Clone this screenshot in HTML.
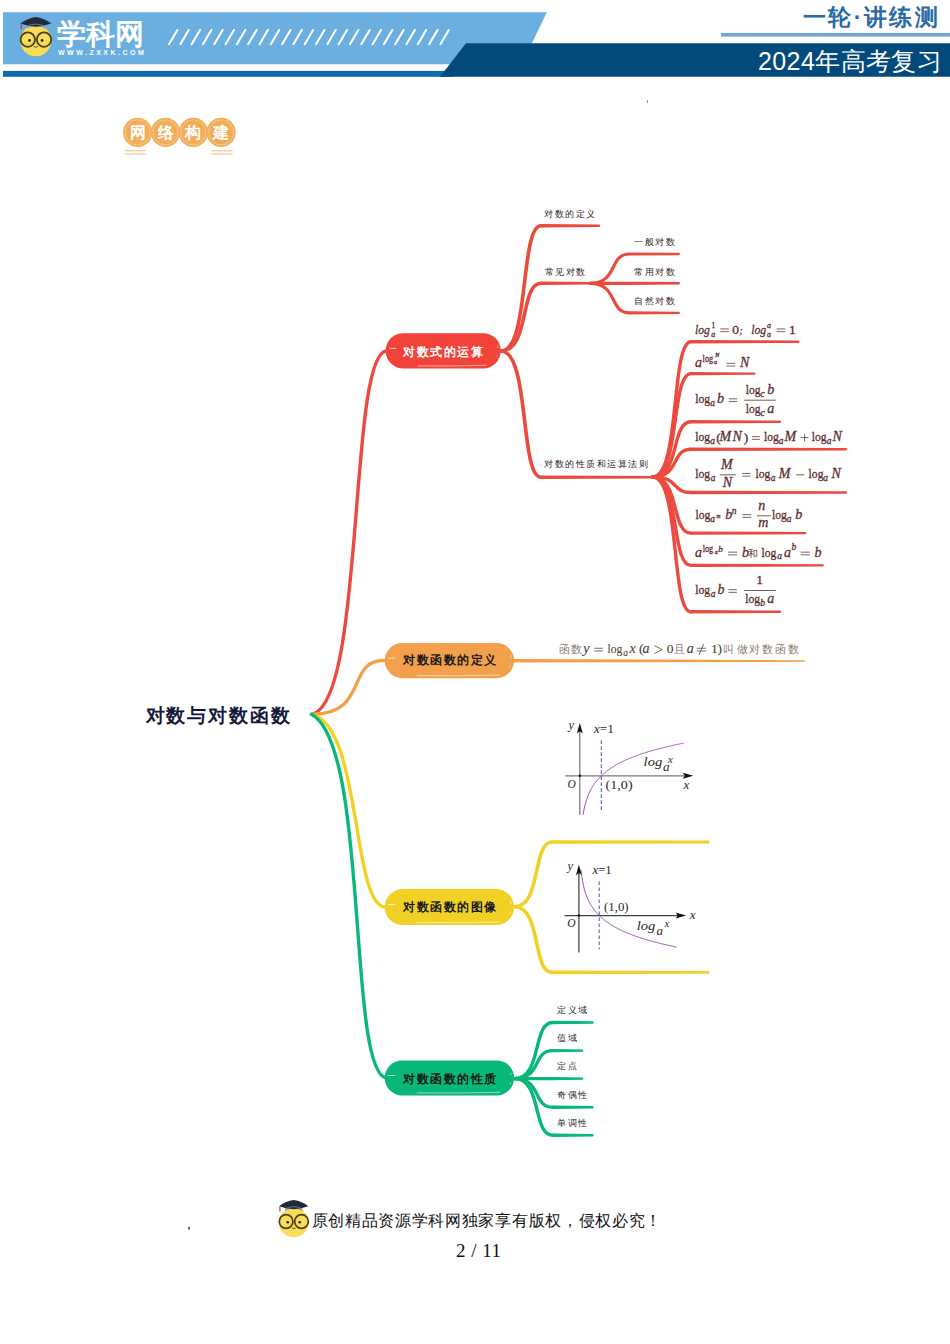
<!DOCTYPE html>
<html><head><meta charset="utf-8">
<style>
html,body{margin:0;padding:0;background:#fff;}
body{width:950px;height:1344px;position:relative;overflow:hidden;font-family:"Liberation Sans",sans-serif;}
.a{position:absolute;white-space:nowrap;line-height:1;}
svg{position:absolute;left:0;top:0;overflow:visible;}
.lbl{position:absolute;white-space:nowrap;line-height:1;font-size:9px;letter-spacing:1.5px;color:#2e1a1a;}
.node{position:absolute;white-space:nowrap;line-height:1;font-size:12px;font-weight:bold;letter-spacing:1.5px;}
.m{position:absolute;white-space:nowrap;line-height:1;font-family:"Liberation Serif",serif;font-size:14px;color:#5a2e2e;}
.m i{font-style:italic;}
.m .sb{font-size:9px;position:relative;top:3px;}
.m .sp{font-size:9px;position:relative;top:-5px;}
.fr{display:inline-block;vertical-align:middle;text-align:center;}
.fr>span{display:block;}
.fr>.num{border-bottom:1px solid #5a2e2e;padding:0 1px 1px;}
.fr>.den{padding-top:1px;}
.gt{position:absolute;white-space:nowrap;line-height:1;font-family:"Liberation Serif",serif;color:#222;}
</style></head><body>

<svg width="950" height="90">
  <polygon points="3,12.3 546.8,12.3 521.8,64.3 3,64.3" fill="#6aafdf"/>
  <rect x="3" y="70.9" width="450" height="5.9" fill="#0f6bb0"/>
  <polygon points="466,43.2 950,43.2 950,76.8 440,76.8" fill="#034a7c"/>
  <rect x="721" y="33" width="229" height="3.6" fill="#6fa8d6"/>
  <g stroke="#fff" stroke-width="2.1" stroke-linecap="round"><path d="M169.00,44.2 L177.40,30"/><path d="M180.31,44.2 L188.71,30"/><path d="M191.62,44.2 L200.02,30"/><path d="M202.93,44.2 L211.33,30"/><path d="M214.24,44.2 L222.64,30"/><path d="M225.55,44.2 L233.95,30"/><path d="M236.86,44.2 L245.26,30"/><path d="M248.17,44.2 L256.57,30"/><path d="M259.48,44.2 L267.88,30"/><path d="M270.79,44.2 L279.19,30"/><path d="M282.10,44.2 L290.50,30"/><path d="M293.41,44.2 L301.81,30"/><path d="M304.72,44.2 L313.12,30"/><path d="M316.03,44.2 L324.43,30"/><path d="M327.34,44.2 L335.74,30"/><path d="M338.65,44.2 L347.05,30"/><path d="M349.96,44.2 L358.36,30"/><path d="M361.27,44.2 L369.67,30"/><path d="M372.58,44.2 L380.98,30"/><path d="M383.89,44.2 L392.29,30"/><path d="M395.20,44.2 L403.60,30"/><path d="M406.51,44.2 L414.91,30"/><path d="M417.82,44.2 L426.22,30"/><path d="M429.13,44.2 L437.53,30"/><path d="M440.44,44.2 L448.84,30"/></g>


  <g>
   <circle cx="35.8" cy="40.6" r="15.6" fill="#fbdc58"/>
   <path d="M26.799999999999997,28.6 Q35.8,23.6 44.8,28.6 L44.8,25.6 L26.799999999999997,25.6 Z" fill="#9aa6b4"/>
   <path d="M20.299999999999997,23.6 Q27.799999999999997,18.1 35.8,17.1 Q43.8,18.1 51.3,23.6 Q43.8,26.1 35.8,26.8 Q27.799999999999997,26.1 20.299999999999997,23.6 Z" fill="#1f2b3b"/>
   <path d="M27.299999999999997,26.1 Q35.8,22.1 44.3,26.1" stroke="#7d8a99" stroke-width="0.8" fill="none"/>
   <path d="M21.299999999999997,24.1 L21.299999999999997,29.1" stroke="#c8404e" stroke-width="1.3"/>
   <circle cx="27.799999999999997" cy="39.6" r="7.2" fill="none" stroke="#4a4218" stroke-width="1.8"/>
   <circle cx="44.0" cy="39.6" r="7.2" fill="none" stroke="#4a4218" stroke-width="1.8"/>
   <circle cx="29.499999999999996" cy="40.4" r="1.4" fill="#2a2410"/>
   <circle cx="42.099999999999994" cy="40.4" r="1.4" fill="#2a2410"/>
   <path d="M33.8,46.4 Q35.8,48.2 37.8,46.4" stroke="#4a4218" stroke-width="0.9" fill="none"/>
  </g>
</svg>
<div class="a" style="left:57px;top:19.5px;font-size:29px;font-weight:bold;color:#fff;letter-spacing:0px;">学科网</div>
<div class="a" style="left:58px;top:48.5px;font-size:7px;font-weight:bold;color:#fff;letter-spacing:2.5px;">WWW.ZXXK.COM</div>
<div class="a" style="left:803px;top:6px;font-size:23px;font-weight:bold;color:#2a6aa6;letter-spacing:2.4px;">一轮·讲练测</div>
<div class="a" style="left:758px;top:49px;font-size:25px;color:#fff;letter-spacing:0.4px;">2024年高考复习</div>
<svg width="950" height="200">
<circle cx="137.6" cy="132.4" r="14.6" fill="#f2ad58"/>
<circle cx="137.6" cy="132.4" r="12.6" fill="none" stroke="#f8d3a0" stroke-width="0.7"/>
<circle cx="165.5" cy="132.4" r="14.6" fill="#f2ad58"/>
<circle cx="165.5" cy="132.4" r="12.6" fill="none" stroke="#f8d3a0" stroke-width="0.7"/>
<circle cx="193.3" cy="132.4" r="14.6" fill="#f2ad58"/>
<circle cx="193.3" cy="132.4" r="12.6" fill="none" stroke="#f8d3a0" stroke-width="0.7"/>
<circle cx="221.1" cy="132.4" r="14.6" fill="#f2ad58"/>
<circle cx="221.1" cy="132.4" r="12.6" fill="none" stroke="#f8d3a0" stroke-width="0.7"/>
<rect x="124.6" y="150.2" width="21.2" height="1.1" fill="#f2c38a"/>
<rect x="124.6" y="153.4" width="21.2" height="1.1" fill="#f2c38a"/>
<rect x="211.5" y="150.2" width="21.2" height="1.1" fill="#f2c38a"/>
<rect x="211.5" y="153.4" width="21.2" height="1.1" fill="#f2c38a"/>
</svg>
<div class="a" style="left:129.6px;top:124.5px;font-size:16px;font-weight:bold;color:#fff;">网</div>
<div class="a" style="left:157.5px;top:124.5px;font-size:16px;font-weight:bold;color:#fff;">络</div>
<div class="a" style="left:185.3px;top:124.5px;font-size:16px;font-weight:bold;color:#fff;">构</div>
<div class="a" style="left:213.1px;top:124.5px;font-size:16px;font-weight:bold;color:#fff;">建</div>
<svg width="950" height="1344">
<path d="M311.5,714.3 C365.3,704 348.1,357 386,351" fill="none" stroke="#ec4a3e" stroke-width="3.4" stroke-linecap="round"/>
<path d="M311.5,714.3 C369.9,715 344.9,658.3 386,660.6" fill="none" stroke="#f3a04d" stroke-width="3.4" stroke-linecap="round"/>
<path d="M311.5,714.3 C362,724.3 351.3,907.9 386,907" fill="none" stroke="#f1d126" stroke-width="3.4" stroke-linecap="round"/>
<path d="M311.5,714.3 C369.3,745.1 347.1,1069.1 386,1078" fill="none" stroke="#08b878" stroke-width="3.4" stroke-linecap="round"/>
<rect x="385.6" y="333.2" width="115.19999999999999" height="35.30000000000001" rx="17.650000000000006" fill="#f2433a"/>
<path d="M389.1,348.379 L396.1,348.379" stroke="#fff" stroke-opacity="0.75" stroke-width="0.9"/>
<path d="M417.6,365.9 Q453.20000000000005,366.3 486.8,365.3" stroke="#fff" stroke-opacity="0.6" stroke-width="0.9" fill="none"/>
<path d="M497.8,345.555 L497.5,348.026 M497.2,355.086 L496.8,357.204" stroke="#fff" stroke-opacity="0.6" stroke-width="0.8" fill="none"/>
<rect x="384.7" y="643" width="129.40000000000003" height="35.200000000000045" rx="17.600000000000023" fill="#f3a04d"/>
<path d="M388.2,658.136 L395.2,658.136" stroke="#fff" stroke-opacity="0.75" stroke-width="0.9"/>
<path d="M416.7,675.6 Q459.4,676.0 500.1,675.0" stroke="#fff" stroke-opacity="0.6" stroke-width="0.9" fill="none"/>
<path d="M511.1,655.32 L510.8,657.784 M510.5,664.8240000000001 L510.1,666.936" stroke="#fff" stroke-opacity="0.6" stroke-width="0.8" fill="none"/>
<rect x="384.7" y="889.1" width="129.40000000000003" height="36.0" rx="18.0" fill="#f1d126"/>
<path d="M388.2,904.58 L395.2,904.58" stroke="#fff" stroke-opacity="0.75" stroke-width="0.9"/>
<path d="M416.7,922.5 Q459.4,922.9 500.1,921.9" stroke="#fff" stroke-opacity="0.6" stroke-width="0.9" fill="none"/>
<path d="M511.1,901.7 L510.8,904.22 M510.5,911.4200000000001 L510.1,913.58" stroke="#fff" stroke-opacity="0.6" stroke-width="0.8" fill="none"/>
<rect x="384.7" y="1060.4" width="129.40000000000003" height="35.09999999999991" rx="17.549999999999955" fill="#08b878"/>
<path d="M388.2,1075.493 L395.2,1075.493" stroke="#fff" stroke-opacity="0.75" stroke-width="0.9"/>
<path d="M416.7,1092.9 Q459.4,1093.3 500.1,1092.3" stroke="#fff" stroke-opacity="0.6" stroke-width="0.9" fill="none"/>
<path d="M511.1,1072.685 L510.8,1075.142 M510.5,1082.162 L510.1,1084.268" stroke="#fff" stroke-opacity="0.6" stroke-width="0.8" fill="none"/>
<path d="M501,351 C529.80,351 519.80,225.8 541,225.8" fill="none" stroke="#ec4a3e" stroke-width="3.6" stroke-linecap="round"/>
<path d="M541,224.0 L599.5,224.60000000000002 Q601.0,225.8 599.5,227.0 L541,227.60000000000002 Z" fill="#ec4a3e"/>
<path d="M501,351 C529.80,351 519.80,283.3 541,283.3" fill="none" stroke="#ec4a3e" stroke-width="3.6" stroke-linecap="round"/>
<path d="M541,281.5 L589,282.1 Q590.5,283.3 589,284.5 L541,285.1 Z" fill="#ec4a3e"/>
<path d="M501,351 C529.80,351 519.80,477.2 541,477.2" fill="none" stroke="#ec4a3e" stroke-width="3.6" stroke-linecap="round"/>
<path d="M541,475.4 L652,476.0 Q653.5,477.2 652,478.4 L541,479.0 Z" fill="#ec4a3e"/>
<path d="M590,283.3 C618.44,283.3 608.57,254 629.5,254" fill="none" stroke="#ec4a3e" stroke-width="3.2" stroke-linecap="round"/>
<path d="M629.5,252.4 L679.3,252.8 Q680.8,254 679.3,255.2 L629.5,255.6 Z" fill="#ec4a3e"/>
<path d="M590,283.3 C618.44,283.3 608.57,283.3 629.5,283.3" fill="none" stroke="#ec4a3e" stroke-width="3.2" stroke-linecap="round"/>
<path d="M629.5,281.7 L679.3,282.1 Q680.8,283.3 679.3,284.5 L629.5,284.90000000000003 Z" fill="#ec4a3e"/>
<path d="M590,283.3 C618.44,283.3 608.57,312.9 629.5,312.9" fill="none" stroke="#ec4a3e" stroke-width="3.2" stroke-linecap="round"/>
<path d="M629.5,311.29999999999995 L679.3,311.7 Q680.8,312.9 679.3,314.09999999999997 L629.5,314.5 Z" fill="#ec4a3e"/>
<path d="M652.6,477 C680.25,477 670.65,341.7 691,341.7" fill="none" stroke="#ec4a3e" stroke-width="3.4" stroke-linecap="round"/>
<path d="M691,340.0 L798.8,340.5 Q800.3,341.7 798.8,342.9 L691,343.4 Z" fill="#ec4a3e"/>
<path d="M652.6,477 C680.25,477 670.65,373.6 691,373.6" fill="none" stroke="#ec4a3e" stroke-width="3.4" stroke-linecap="round"/>
<path d="M691,371.90000000000003 L754.8,372.40000000000003 Q756.3,373.6 754.8,374.8 L691,375.3 Z" fill="#ec4a3e"/>
<path d="M652.6,477 C680.25,477 670.65,421.8 691,421.8" fill="none" stroke="#ec4a3e" stroke-width="3.4" stroke-linecap="round"/>
<path d="M691,420.1 L780.3,420.6 Q781.8,421.8 780.3,423.0 L691,423.5 Z" fill="#ec4a3e"/>
<path d="M652.6,477 C680.25,477 670.65,449.3 691,449.3" fill="none" stroke="#ec4a3e" stroke-width="3.4" stroke-linecap="round"/>
<path d="M691,447.6 L846.3,448.1 Q847.8,449.3 846.3,450.5 L691,451.0 Z" fill="#ec4a3e"/>
<path d="M652.6,477 C680.25,477 670.65,492.5 691,492.5" fill="none" stroke="#ec4a3e" stroke-width="3.4" stroke-linecap="round"/>
<path d="M691,490.8 L846.3,491.3 Q847.8,492.5 846.3,493.7 L691,494.2 Z" fill="#ec4a3e"/>
<path d="M652.6,477 C680.25,477 670.65,533.1 691,533.1" fill="none" stroke="#ec4a3e" stroke-width="3.4" stroke-linecap="round"/>
<path d="M691,531.4 L805.7,531.9 Q807.2,533.1 805.7,534.3000000000001 L691,534.8000000000001 Z" fill="#ec4a3e"/>
<path d="M652.6,477 C680.25,477 670.65,565.4 691,565.4" fill="none" stroke="#ec4a3e" stroke-width="3.4" stroke-linecap="round"/>
<path d="M691,563.6999999999999 L823.1,564.1999999999999 Q824.6,565.4 823.1,566.6 L691,567.1 Z" fill="#ec4a3e"/>
<path d="M652.6,477 C680.25,477 670.65,611.8 691,611.8" fill="none" stroke="#ec4a3e" stroke-width="3.4" stroke-linecap="round"/>
<path d="M691,610.0999999999999 L780.3,610.5999999999999 Q781.8,611.8 780.3,613.0 L691,613.5 Z" fill="#ec4a3e"/>
<path d="M514,659 L804,660.2 Q806,661 804,661.8 L514,662.4 Z" fill="#f3a04d"/>
<path d="M514.6,906.8 C541.53,906.8 532.18,842 552,842" fill="none" stroke="#f1d126" stroke-width="3.6" stroke-linecap="round"/>
<path d="M552,840.2 L709,840.6 Q710.5,842 709,843.4 L552,843.8 Z" fill="#f1d126"/>
<path d="M514.6,906.8 C541.53,906.8 532.18,972.4 552,972.4" fill="none" stroke="#f1d126" stroke-width="3.6" stroke-linecap="round"/>
<path d="M552,970.6 L709,971.0 Q710.5,972.4 709,973.8 L552,974.1999999999999 Z" fill="#f1d126"/>
<path d="M514.7,1078.6 C541.92,1078.6 532.47,1022.5 552.5,1022.5" fill="none" stroke="#08b878" stroke-width="3.4" stroke-linecap="round"/>
<path d="M552.5,1020.8 L593,1021.3 Q594.5,1022.5 593,1023.7 L552.5,1024.2 Z" fill="#08b878"/>
<path d="M514.7,1078.6 C541.92,1078.6 532.47,1050.6 552.5,1050.6" fill="none" stroke="#08b878" stroke-width="3.4" stroke-linecap="round"/>
<path d="M552.5,1048.8999999999999 L582.7,1049.3999999999999 Q584.2,1050.6 582.7,1051.8 L552.5,1052.3 Z" fill="#08b878"/>
<path d="M514.7,1078.6 C541.92,1078.6 532.47,1078.6 552.5,1078.6" fill="none" stroke="#08b878" stroke-width="3.4" stroke-linecap="round"/>
<path d="M552.5,1076.8999999999999 L582.7,1077.3999999999999 Q584.2,1078.6 582.7,1079.8 L552.5,1080.3 Z" fill="#08b878"/>
<path d="M514.7,1078.6 C541.92,1078.6 532.47,1107.2 552.5,1107.2" fill="none" stroke="#08b878" stroke-width="3.4" stroke-linecap="round"/>
<path d="M552.5,1105.5 L593,1106.0 Q594.5,1107.2 593,1108.4 L552.5,1108.9 Z" fill="#08b878"/>
<path d="M514.7,1078.6 C541.92,1078.6 532.47,1135.2 552.5,1135.2" fill="none" stroke="#08b878" stroke-width="3.4" stroke-linecap="round"/>
<path d="M552.5,1133.5 L593,1134.0 Q594.5,1135.2 593,1136.4 L552.5,1136.9 Z" fill="#08b878"/>
<line x1="579.8" y1="730.0" x2="579.8" y2="815" stroke="#7a7a7a" stroke-width="1.25"/>
<polygon points="579.8,723.0 576.8,733.5 579.8,731.3 582.8,733.5" fill="#111"/>
<line x1="565.3" y1="775.8" x2="686.2" y2="775.8" stroke="#7a7a7a" stroke-width="1.25"/>
<polygon points="693.2,775.8 682.7,772.8 684.9000000000001,775.8 682.7,778.8" fill="#111"/>
<circle cx="579.8" cy="775.8" r="1.3" fill="#111"/>
<line x1="601.3" y1="740.3" x2="601.3" y2="811.8" stroke="#4455dd" stroke-width="1.05" stroke-dasharray="3.6,2.4"/>
<line x1="578.9" y1="871.7" x2="578.9" y2="952.6" stroke="#444" stroke-width="1.25"/>
<polygon points="578.9,864.7 575.9,875.2 578.9,873.0 581.9,875.2" fill="#111"/>
<line x1="564.5" y1="915.5" x2="679.1" y2="915.5" stroke="#444" stroke-width="1.25"/>
<polygon points="686.1,915.5 675.6,912.5 677.8000000000001,915.5 675.6,918.5" fill="#111"/>
<circle cx="578.9" cy="915.5" r="1.3" fill="#111"/>
<line x1="599.2" y1="881.5" x2="599.2" y2="949.5" stroke="#4455dd" stroke-width="1.05" stroke-dasharray="3.6,2.4"/>
<polyline points="583.10,814.69 583.60,811.76 584.10,809.20 584.60,806.91 585.10,804.86 585.60,802.99 586.10,801.27 586.60,799.69 587.10,798.21 587.60,796.84 588.10,795.55 588.60,794.34 589.10,793.19 589.60,792.10 590.10,791.07 590.60,790.09 591.10,789.15 591.60,788.25 592.10,787.39 592.60,786.56 593.10,785.77 593.60,785.00 594.10,784.26 594.60,783.55 595.10,782.86 595.60,782.19 596.10,781.55 596.60,780.92 597.10,780.31 597.60,779.72 598.10,779.14 598.60,778.58 599.10,778.04 599.60,777.51 600.10,776.99 600.60,776.49 601.10,775.99 601.60,775.51 602.10,775.04 602.60,774.58 603.10,774.13 603.60,773.69 604.10,773.26 604.60,772.84 605.10,772.42 605.60,772.02 606.10,771.62 606.60,771.23 607.10,770.84 607.60,770.47 608.10,770.10 608.60,769.73 609.10,769.38 609.60,769.03 610.10,768.68 610.60,768.34 611.10,768.01 611.60,767.68 612.10,767.35 612.60,767.04 613.10,766.72 613.60,766.41 614.10,766.11 614.60,765.81 615.10,765.51 615.60,765.22 616.10,764.93 616.60,764.65 617.10,764.37 617.60,764.09 618.10,763.82 618.60,763.55 619.10,763.28 619.60,763.02 620.10,762.76 620.60,762.51 621.10,762.25 621.60,762.00 622.10,761.76 622.60,761.51 623.10,761.27 623.60,761.03 624.10,760.80 624.60,760.57 625.10,760.34 625.60,760.11 626.10,759.88 626.60,759.66 627.10,759.44 627.60,759.22 628.10,759.01 628.60,758.79 629.10,758.58 629.60,758.37 630.10,758.16 630.60,757.96 631.10,757.76 631.60,757.55 632.10,757.35 632.60,757.16 633.10,756.96 633.60,756.77 634.10,756.58 634.60,756.39 635.10,756.20 635.60,756.01 636.10,755.83 636.60,755.64 637.10,755.46 637.60,755.28 638.10,755.10 638.60,754.92 639.10,754.75 639.60,754.57 640.10,754.40 640.60,754.23 641.10,754.06 641.60,753.89 642.10,753.72 642.60,753.56 643.10,753.39 643.60,753.23 644.10,753.07 644.60,752.91 645.10,752.75 645.60,752.59 646.10,752.43 646.60,752.28 647.10,752.12 647.60,751.97 648.10,751.82 648.60,751.66 649.10,751.51 649.60,751.37 650.10,751.22 650.60,751.07 651.10,750.92 651.60,750.78 652.10,750.63 652.60,750.49 653.10,750.35 653.60,750.21 654.10,750.07 654.60,749.93 655.10,749.79 655.60,749.65 656.10,749.52 656.60,749.38 657.10,749.25 657.60,749.11 658.10,748.98 658.60,748.85 659.10,748.72 659.60,748.59 660.10,748.46 660.60,748.33 661.10,748.20 661.60,748.07 662.10,747.95 662.60,747.82 663.10,747.70 663.60,747.57 664.10,747.45 664.60,747.33 665.10,747.20 665.60,747.08 666.10,746.96 666.60,746.84 667.10,746.72 667.60,746.60 668.10,746.49 668.60,746.37 669.10,746.25 669.60,746.14 670.10,746.02 670.60,745.91 671.10,745.79 671.60,745.68 672.10,745.57 672.60,745.46 673.10,745.34 673.60,745.23 674.10,745.12 674.60,745.01 675.10,744.90 675.60,744.80 676.10,744.69 676.60,744.58 677.10,744.47 677.60,744.37 678.10,744.26 678.60,744.16 679.10,744.05 679.60,743.95 680.10,743.84 680.60,743.74 681.10,743.64 681.60,743.53 682.10,743.43 682.60,743.33 683.10,743.23 683.60,743.13" fill="none" stroke="#a04aa6" stroke-width="1"/>
<polyline points="581.00,869.90 581.50,874.19 582.00,877.73 582.50,880.73 583.00,883.35 583.50,885.66 584.00,887.73 584.50,889.61 585.00,891.33 585.50,892.92 586.00,894.38 586.50,895.75 587.00,897.03 587.50,898.24 588.00,899.37 588.50,900.45 589.00,901.47 589.50,902.44 590.00,903.37 590.50,904.25 591.00,905.10 591.50,905.91 592.00,906.70 592.50,907.45 593.00,908.17 593.50,908.88 594.00,909.55 594.50,910.21 595.00,910.84 595.50,911.46 596.00,912.05 596.50,912.63 597.00,913.19 597.50,913.74 598.00,914.28 598.50,914.79 599.00,915.30 599.50,915.79 600.00,916.28 600.50,916.75 601.00,917.21 601.50,917.66 602.00,918.10 602.50,918.53 603.00,918.95 603.50,919.36 604.00,919.77 604.50,920.16 605.00,920.55 605.50,920.93 606.00,921.31 606.50,921.67 607.00,922.04 607.50,922.39 608.00,922.74 608.50,923.08 609.00,923.42 609.50,923.75 610.00,924.07 610.50,924.39 611.00,924.71 611.50,925.02 612.00,925.33 612.50,925.63 613.00,925.93 613.50,926.22 614.00,926.51 614.50,926.79 615.00,927.07 615.50,927.35 616.00,927.62 616.50,927.89 617.00,928.15 617.50,928.42 618.00,928.68 618.50,928.93 619.00,929.18 619.50,929.43 620.00,929.68 620.50,929.92 621.00,930.16 621.50,930.40 622.00,930.63 622.50,930.87 623.00,931.09 623.50,931.32 624.00,931.55 624.50,931.77 625.00,931.99 625.50,932.20 626.00,932.42 626.50,932.63 627.00,932.84 627.50,933.05 628.00,933.25 628.50,933.46 629.00,933.66 629.50,933.86 630.00,934.06 630.50,934.25 631.00,934.45 631.50,934.64 632.00,934.83 632.50,935.02 633.00,935.20 633.50,935.39 634.00,935.57 634.50,935.75 635.00,935.93 635.50,936.11 636.00,936.29 636.50,936.46 637.00,936.64 637.50,936.81 638.00,936.98 638.50,937.15 639.00,937.32 639.50,937.48 640.00,937.65 640.50,937.81 641.00,937.97 641.50,938.14 642.00,938.30 642.50,938.45 643.00,938.61 643.50,938.77 644.00,938.92 644.50,939.08 645.00,939.23 645.50,939.38 646.00,939.53 646.50,939.68 647.00,939.83 647.50,939.98 648.00,940.12 648.50,940.27 649.00,940.41 649.50,940.55 650.00,940.69 650.50,940.84 651.00,940.98 651.50,941.11 652.00,941.25 652.50,941.39 653.00,941.53 653.50,941.66 654.00,941.79 654.50,941.93 655.00,942.06 655.50,942.19 656.00,942.32 656.50,942.45 657.00,942.58 657.50,942.71 658.00,942.84 658.50,942.96 659.00,943.09 659.50,943.22 660.00,943.34 660.50,943.46 661.00,943.59 661.50,943.71 662.00,943.83 662.50,943.95 663.00,944.07 663.50,944.19 664.00,944.31 664.50,944.43 665.00,944.54 665.50,944.66 666.00,944.77 666.50,944.89 667.00,945.00 667.50,945.12 668.00,945.23 668.50,945.34 669.00,945.46 669.50,945.57 670.00,945.68 670.50,945.79 671.00,945.90 671.50,946.01 672.00,946.11 672.50,946.22 673.00,946.33 673.50,946.43 674.00,946.54 674.50,946.65 675.00,946.75 675.50,946.86 676.00,946.96 676.50,947.06" fill="none" stroke="#a04aa6" stroke-width="1"/>
</svg>
<div class="a" style="left:145.5px;top:707px;font-size:18.5px;font-weight:bold;letter-spacing:1.85px;color:#14183a;">对数与对数函数</div>
<div class="node" style="left:403px;top:345.5px;color:#fff;">对数式的运算</div>
<div class="node" style="left:403px;top:654px;color:#1a1a1a;">对数函数的定义</div>
<div class="node" style="left:403px;top:901px;color:#1a1a1a;">对数函数的图像</div>
<div class="node" style="left:403px;top:1073px;color:#1a1a1a;">对数函数的性质</div>
<div class="lbl" style="left:544px;top:210.0px;color:#2e1a1a;">对数的定义</div>
<div class="lbl" style="left:544.5px;top:267.5px;color:#2e1a1a;">常见对数</div>
<div class="lbl" style="left:634.3px;top:238.0px;color:#2e1a1a;">一般对数</div>
<div class="lbl" style="left:634.3px;top:267.5px;color:#2e1a1a;">常用对数</div>
<div class="lbl" style="left:634.3px;top:297.0px;color:#2e1a1a;">自然对数</div>
<div class="lbl" style="left:544px;top:459.7px;color:#2e1a1a;">对数的性质和运算法则</div>
<div class="lbl" style="left:557.4px;top:1006.3px;color:#2a2a2a;">定义域</div>
<div class="lbl" style="left:557.4px;top:1034.4px;color:#2a2a2a;">值域</div>
<div class="lbl" style="left:557.4px;top:1062.4px;color:#2a2a2a;">定点</div>
<div class="lbl" style="left:557.4px;top:1091.0px;color:#2a2a2a;">奇偶性</div>
<div class="lbl" style="left:557.4px;top:1119.0px;color:#2a2a2a;">单调性</div>
<svg width="950" height="1344" font-family="Liberation Serif" fill="#5b2f2f" stroke="#5b2f2f" stroke-width="0.3"><text x="695.0" y="333.5" font-size="13.5" font-style="italic" textLength="14.9" lengthAdjust="spacingAndGlyphs">log</text><text x="711.6" y="328.4" font-size="7.5">1</text><text x="711.2" y="336.5" font-size="8" font-style="italic">a</text><path d="M720.3,328.95 H728.8 M720.3,331.65000000000003 H728.8" stroke="#5b2f2f" stroke-width="0.75" fill="none"/><text x="732.2" y="333.8" font-size="13.5">0</text><text x="739.3" y="333.6" font-size="10" font-style="italic">;</text><text x="751.2" y="333.5" font-size="13.5" font-style="italic" textLength="14.9" lengthAdjust="spacingAndGlyphs">log</text><text x="767.0" y="328.2" font-size="8" font-style="italic">a</text><text x="767.0" y="336.5" font-size="8" font-style="italic">a</text><path d="M776.6,328.95 H785.4 M776.6,331.65000000000003 H785.4" stroke="#5b2f2f" stroke-width="0.75" fill="none"/><text x="789.0" y="333.8" font-size="13.5">1</text><text x="695.0" y="367.3" font-size="14" font-style="italic">a</text><text x="702.6" y="361.8" font-size="9.5" textLength="10.49" lengthAdjust="spacingAndGlyphs">log</text><text x="714.0" y="364.2" font-size="6" font-style="italic">a</text><text x="715.2" y="357.4" font-size="6" font-style="italic">N</text><path d="M726.5,363.34999999999997 H735.3 M726.5,366.05 H735.3" stroke="#5b2f2f" stroke-width="0.75" fill="none"/><text x="740.0" y="367.3" font-size="14" font-style="italic">N</text><text x="695.3" y="403.2" font-size="13.5" textLength="14.9" lengthAdjust="spacingAndGlyphs">log</text><text x="710.2" y="406.2" font-size="9.5" font-style="italic">a</text><text x="717.0" y="403.2" font-size="14" font-style="italic">b</text><path d="M728.8,398.84999999999997 H737.3 M728.8,401.55 H737.3" stroke="#5b2f2f" stroke-width="0.75" fill="none"/><path d="M744,400.2 H775.7" stroke="#5b2f2f" stroke-width="0.8" fill="none"/><text x="745.7" y="394.2" font-size="13.5" textLength="14.9" lengthAdjust="spacingAndGlyphs">log</text><text x="760.6" y="397.2" font-size="9.5" font-style="italic">c</text><text x="767.2" y="394.2" font-size="14" font-style="italic">b</text><text x="745.7" y="412.7" font-size="13.5" textLength="14.9" lengthAdjust="spacingAndGlyphs">log</text><text x="760.6" y="415.5" font-size="9.5" font-style="italic">c</text><text x="767.2" y="412.7" font-size="14" font-style="italic">a</text><text x="695.3" y="441.2" font-size="13.5" textLength="14.9" lengthAdjust="spacingAndGlyphs">log</text><text x="710.2" y="443.7" font-size="9.5" font-style="italic">a</text><text x="716.3" y="441.5" font-size="13.5">(</text><text x="719.4" y="441.2" font-size="14" font-style="italic">M</text><text x="732.6" y="441.2" font-size="14" font-style="italic">N</text><text x="743.7" y="441.5" font-size="13.5">)</text><path d="M751.9,436.65 H759.9 M751.9,439.35 H759.9" stroke="#5b2f2f" stroke-width="0.75" fill="none"/><text x="763.9" y="441.2" font-size="13.5" textLength="14.9" lengthAdjust="spacingAndGlyphs">log</text><text x="778.8" y="443.7" font-size="9.5" font-style="italic">a</text><text x="784.6" y="441.2" font-size="14" font-style="italic">M</text><path d="M800.8,437.6 H808.4 M804.5999999999999,433.8 V441.40000000000003" stroke="#5b2f2f" stroke-width="0.75" fill="none"/><text x="811.8" y="441.2" font-size="13.5" textLength="14.9" lengthAdjust="spacingAndGlyphs">log</text><text x="826.7" y="443.7" font-size="9.5" font-style="italic">a</text><text x="832.5" y="441.2" font-size="14" font-style="italic">N</text><text x="695.3" y="478.2" font-size="13.5" textLength="14.9" lengthAdjust="spacingAndGlyphs">log</text><text x="710.8" y="480.9" font-size="9.5" font-style="italic">a</text><path d="M719.9,474.8 H735.9" stroke="#5b2f2f" stroke-width="0.8" fill="none"/><text x="721.0" y="469.4" font-size="14" font-style="italic">M</text><text x="722.8" y="487" font-size="14" font-style="italic">N</text><path d="M742.2,473.45 H750.6 M742.2,476.15000000000003 H750.6" stroke="#5b2f2f" stroke-width="0.75" fill="none"/><text x="755.5" y="478.2" font-size="13.5" textLength="14.9" lengthAdjust="spacingAndGlyphs">log</text><text x="770.8" y="480.9" font-size="9.5" font-style="italic">a</text><text x="778.8" y="478.2" font-size="14" font-style="italic">M</text><path d="M796.3,474.8 H804.4" stroke="#5b2f2f" stroke-width="0.8" fill="none"/><text x="808.6" y="478.2" font-size="13.5" textLength="14.9" lengthAdjust="spacingAndGlyphs">log</text><text x="823.3" y="480.9" font-size="9.5" font-style="italic">a</text><text x="831.6" y="478.2" font-size="14" font-style="italic">N</text><text x="695.5" y="518.9" font-size="13.5" textLength="14.9" lengthAdjust="spacingAndGlyphs">log</text><text x="710.3" y="522.0" font-size="9.5" font-style="italic">a</text><text x="716.5" y="518.2" font-size="5.5" font-style="italic">m</text><text x="725.2" y="518.9" font-size="14" font-style="italic">b</text><text x="731.8" y="513.9" font-size="9.5" font-style="italic">n</text><path d="M742.4,514.65 H751.3 M742.4,517.35 H751.3" stroke="#5b2f2f" stroke-width="0.75" fill="none"/><path d="M757,515.8 H770.8" stroke="#5b2f2f" stroke-width="0.8" fill="none"/><text x="758.3" y="509.5" font-size="14" font-style="italic">n</text><text x="758.3" y="527.2" font-size="14" font-style="italic">m</text><text x="771.9" y="518.9" font-size="13.5" textLength="14.9" lengthAdjust="spacingAndGlyphs">log</text><text x="786.8" y="522.0" font-size="9.5" font-style="italic">a</text><text x="795.3" y="518.9" font-size="14" font-style="italic">b</text><text x="695.0" y="556.6" font-size="14" font-style="italic">a</text><text x="702.7" y="552.2" font-size="9.5" textLength="10.49" lengthAdjust="spacingAndGlyphs">log</text><text x="714.8" y="554.2" font-size="6" font-style="italic">a</text><text x="718.2" y="552.0" font-size="9" font-style="italic">b</text><path d="M728.0,552.15 H737.2 M728.0,554.85 H737.2" stroke="#5b2f2f" stroke-width="0.75" fill="none"/><text x="742.0" y="556.6" font-size="14" font-style="italic">b</text><text x="747.8" y="556.6" font-size="10" stroke="none">和</text><text x="761.4" y="556.6" font-size="13.5" textLength="14.9" lengthAdjust="spacingAndGlyphs">log</text><text x="777.3" y="559.3" font-size="9.5" font-style="italic">a</text><text x="784.0" y="556.6" font-size="14" font-style="italic">a</text><text x="791.6" y="550.0" font-size="9.5" font-style="italic">b</text><path d="M800.7,552.15 H809.9 M800.7,554.85 H809.9" stroke="#5b2f2f" stroke-width="0.75" fill="none"/><text x="814.5" y="556.6" font-size="14" font-style="italic">b</text><text x="695.3" y="594.0" font-size="13.5" textLength="14.9" lengthAdjust="spacingAndGlyphs">log</text><text x="710.8" y="597.0" font-size="9.5" font-style="italic">a</text><text x="717.6" y="594.0" font-size="14" font-style="italic">b</text><path d="M728.4,589.65 H736.9 M728.4,592.35 H736.9" stroke="#5b2f2f" stroke-width="0.75" fill="none"/><path d="M744,590.5 H775.7" stroke="#5b2f2f" stroke-width="0.8" fill="none"/><text x="756.2" y="584.3" font-size="13.5">1</text><text x="745.2" y="602.8" font-size="13.5" textLength="14.9" lengthAdjust="spacingAndGlyphs">log</text><text x="760.3" y="605.8" font-size="9.5" font-style="italic">b</text><text x="767.2" y="602.8" font-size="14" font-style="italic">a</text><text x="558.5" y="652.6" font-size="10.5" fill="#8a7b70" stroke="none">函</text><text x="570.8000000000001" y="652.6" font-size="10.5" fill="#8a7b70" stroke="none">数</text><text x="583.2" y="652.7" font-size="14" font-style="italic" fill="#4e3e34" stroke="#4e3e34" stroke-width="0.1">y</text><path d="M594.3,648.25 H602.8 M594.3,650.95 H602.8" stroke="#4e3e34" stroke-width="0.75" fill="none"/><text x="607.4" y="652.7" font-size="13.5" fill="#4e3e34" stroke="#4e3e34" stroke-width="0.1" textLength="14.9" lengthAdjust="spacingAndGlyphs">log</text><text x="623.3" y="655.5" font-size="9.5" font-style="italic" fill="#4e3e34" stroke="#4e3e34" stroke-width="0.1">a</text><text x="629.6" y="652.7" font-size="14" font-style="italic" fill="#4e3e34" stroke="#4e3e34" stroke-width="0.1">x</text><text x="639.0" y="653.0" font-size="13.5" fill="#4e3e34" stroke="#4e3e34" stroke-width="0.1">(</text><text x="642.6" y="652.7" font-size="14" font-style="italic" fill="#4e3e34" stroke="#4e3e34" stroke-width="0.1">a</text><path d="M654.4,645.6 L662.2,649.6 L654.4,653.6" stroke="#4e3e34" stroke-width="0.8" fill="none"/><text x="666.8" y="652.8" font-size="13.5" fill="#4e3e34" stroke="#4e3e34" stroke-width="0.1">0</text><text x="674.4" y="652.6" font-size="10.5" fill="#8a7b70" stroke="none">且</text><text x="686.7" y="652.7" font-size="14" font-style="italic" fill="#4e3e34" stroke="#4e3e34" stroke-width="0.1">a</text><path d="M696.8,648.25 H705.8 M696.8,650.95 H705.8" stroke="#4e3e34" stroke-width="0.75" fill="none"/><path d="M699.0,655.0 L703.6,644.2" stroke="#4e3e34" stroke-width="0.8"/><text x="711.0" y="652.8" font-size="13.5" fill="#4e3e34" stroke="#4e3e34" stroke-width="0.1">1</text><text x="717.4" y="653.0" font-size="13.5" fill="#4e3e34" stroke="#4e3e34" stroke-width="0.1">)</text><text x="723.2" y="652.6" font-size="10.5" fill="#8a7b70" stroke="none">叫</text><text x="736.5" y="652.6" font-size="10.5" fill="#8a7b70" stroke="none">做</text><text x="748.8000000000001" y="652.6" font-size="10.5" fill="#8a7b70" stroke="none">对</text><text x="762.0" y="652.6" font-size="10.5" fill="#8a7b70" stroke="none">数</text><text x="775.3000000000001" y="652.6" font-size="10.5" fill="#8a7b70" stroke="none">函</text><text x="788.1" y="652.6" font-size="10.5" fill="#8a7b70" stroke="none">数</text></svg>
<svg width="950" height="1344" font-family="Liberation Serif"><text x="568.6" y="728.6" font-size="12.5" font-style="italic" fill="#2a2a2a">y</text><text x="593.8" y="733.1" font-size="13" textLength="20.2" lengthAdjust="spacingAndGlyphs" fill="#2a2a2a"><tspan font-style="italic">x</tspan>=1</text><text x="567.6" y="787.9" font-size="11.5" font-style="italic" fill="#2a2a2a">O</text><text x="605.6" y="789.2" font-size="13.5" textLength="27" lengthAdjust="spacingAndGlyphs" fill="#2a2a2a">(1,0)</text><text x="683.5" y="789.0" font-size="13" font-style="italic" fill="#2a2a2a">x</text><text x="643.6" y="766.0" font-size="12.5" font-style="italic" textLength="18.6" lengthAdjust="spacingAndGlyphs" fill="#2a2a2a">log</text><text x="663.0" y="770.8" font-size="13" font-style="italic" fill="#2a2a2a">a</text><text x="668.0" y="762.5" font-size="11" font-style="italic" fill="#2a2a2a">x</text><text x="567.4" y="869.6" font-size="12.5" font-style="italic" fill="#2a2a2a">y</text><text x="592.5" y="874.4" font-size="13" textLength="19.2" lengthAdjust="spacingAndGlyphs" fill="#2a2a2a"><tspan font-style="italic">x</tspan>=1</text><text x="567.2" y="926.6" font-size="11.5" font-style="italic" fill="#2a2a2a">O</text><text x="604.0" y="911.0" font-size="12.5" textLength="24.6" lengthAdjust="spacingAndGlyphs" fill="#2a2a2a">(1,0)</text><text x="689.8" y="918.7" font-size="13" font-style="italic" fill="#2a2a2a">x</text><text x="636.7" y="930.0" font-size="12.5" font-style="italic" textLength="18.6" lengthAdjust="spacingAndGlyphs" fill="#2a2a2a">log</text><text x="656.6" y="935.0" font-size="13" font-style="italic" fill="#2a2a2a">a</text><text x="664.6" y="926.5" font-size="11" font-style="italic" fill="#2a2a2a">x</text></svg>
<svg width="950" height="1344">

  <g>
   <circle cx="293.7" cy="1222.4" r="14.819999999999999" fill="#fbdc58"/>
   <path d="M285.15,1211.0 Q293.7,1206.25 302.25,1211.0 L302.25,1208.15 L285.15,1208.15 Z" fill="#9aa6b4"/>
   <path d="M278.97499999999997,1206.25 Q286.09999999999997,1201.025 293.7,1200.075 Q301.3,1201.025 308.425,1206.25 Q301.3,1208.625 293.7,1209.2900000000002 Q286.09999999999997,1208.625 278.97499999999997,1206.25 Z" fill="#1f2b3b"/>
   <path d="M285.625,1208.625 Q293.7,1204.825 301.775,1208.625" stroke="#7d8a99" stroke-width="0.76" fill="none"/>
   <path d="M279.925,1206.7250000000001 L279.925,1211.4750000000001" stroke="#c8404e" stroke-width="1.2349999999999999"/>
   <circle cx="286.09999999999997" cy="1221.45" r="6.84" fill="none" stroke="#4a4218" stroke-width="1.71"/>
   <circle cx="301.49" cy="1221.45" r="6.84" fill="none" stroke="#4a4218" stroke-width="1.71"/>
   <circle cx="287.715" cy="1222.21" r="1.3299999999999998" fill="#2a2410"/>
   <circle cx="299.685" cy="1222.21" r="1.3299999999999998" fill="#2a2410"/>
   <path d="M291.8,1227.91 Q293.7,1229.6200000000001 295.59999999999997,1227.91" stroke="#4a4218" stroke-width="0.855" fill="none"/>
  </g>
<rect x="188" y="1227" width="2" height="2.6" fill="#6a6442"/>
<rect x="646.9" y="100" width="1.1" height="3" fill="#9a9a9a"/>
</svg>
<div class="a" style="left:311.5px;top:1212.5px;font-size:16px;letter-spacing:0.7px;font-family:'Liberation Serif',serif;color:#111;">原创精品资源学科网独家享有版权，侵权必究！</div>
<div class="a" style="left:456px;top:1240.5px;font-size:19px;letter-spacing:0.5px;font-family:'Liberation Serif',serif;color:#111;">2 / 11</div>
</body></html>
